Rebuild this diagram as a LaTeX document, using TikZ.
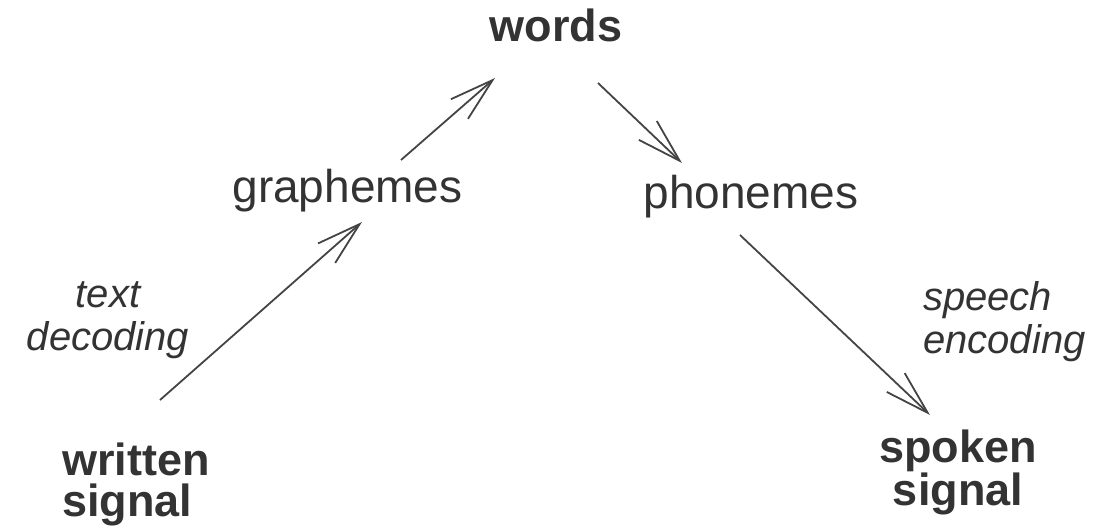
\documentclass[tikz,border=0pt]{standalone}
\usepackage{fontspec}
\setmainfont{Liberation Sans}
\usetikzlibrary{arrows.meta}
\definecolor{ink}{HTML}{333333}
\definecolor{lineink}{HTML}{444444}
\tikzset{
  bigbold/.style={inner sep=0pt, text=ink, font=\fontsize{45}{41}\selectfont\bfseries},
  midtext/.style={inner sep=0pt, text=ink, font=\fontsize{46}{46}\selectfont},
  sidelabel/.style={inner sep=0pt, text=ink, font=\fontsize{40}{43}\selectfont\itshape},
  arr/.style={draw=lineink, line width=1.8pt,
    -{Straight Barb[length=44pt,width=26pt,line width=1.8pt]}}
}
\begin{document}
\begin{tikzpicture}[x=1pt,y=-1pt]
\useasboundingbox (0,0) rectangle (1095,532);
\node[midtext, anchor=base] (graph) at (347.5,202) {graphemes};
\node[midtext, anchor=base] (phon) at (751,208) {phonemes};
\node[bigbold, anchor=base] (words) at (556,42) {words};
\node[bigbold, anchor=base west, align=left] (written) at (62,516) {written\\signal};
\node[bigbold, anchor=base, align=center] (spoken) at (958,505) {spoken\\signal};
\node[sidelabel, anchor=base, align=center] (tdec) at (108,350) {text\\decoding};
\node[sidelabel, anchor=base west, align=left] (senc) at (923,353) {speech\\encoding};
\draw[arr] ([shift={(98,-116)}]written.base west) -- ([shift={(14.5,20)}]graph.base);
\draw[arr] ([shift={(53.5,-42)}]graph.base) -- ([shift={(-61,36)}]words.base);
\draw[arr] ([shift={(42,41)}]words.base) -- ([shift={(-69,-45)}]phon.base);
\draw[arr] ([shift={(-11,27)}]phon.base) -- ([shift={(-28,-90)}]spoken.base);
\end{tikzpicture}
\end{document}
